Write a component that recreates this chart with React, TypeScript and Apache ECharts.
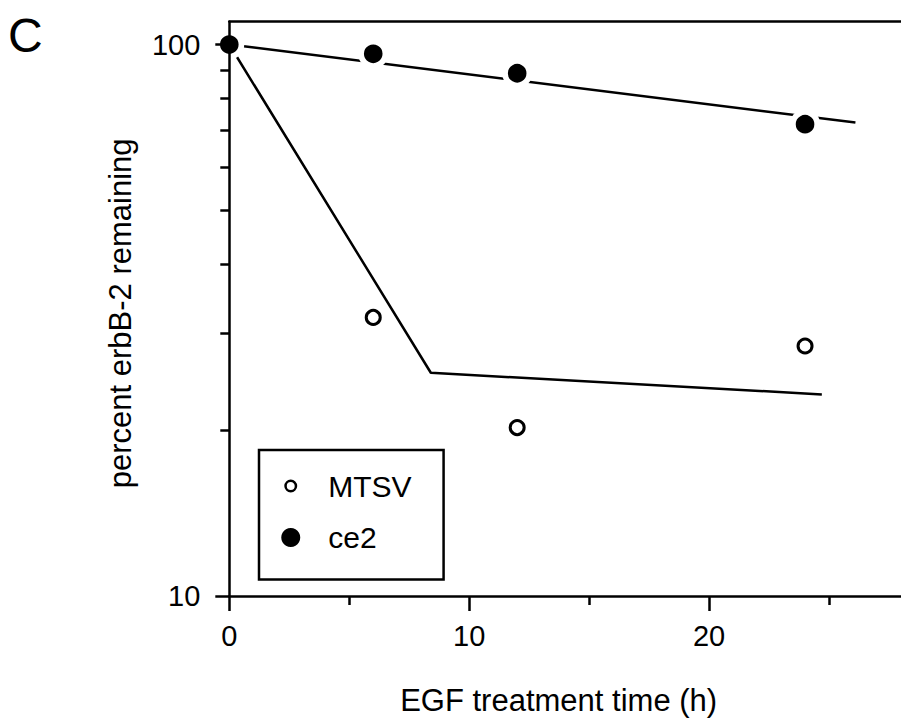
import React, { useEffect, useRef } from "react";
import * as echarts from "echarts";

// ---- data ----
const mtsvTime = [0, 6, 12, 24];
const mtsvValue = [100, 32.0, 20.2, 28.4];
const ce2Time = [0, 6, 12, 24];
const ce2Value = [100, 96.2, 88.7, 71.7];
const mtsvFitTime = [0, 8.4, 24.7];
const mtsvFitValue = [100, 25.4, 23.2];
const ce2FitTime = [0, 26.1];
const ce2FitValue = [100, 72.2];

const xMajorTicks = [0, 10, 20];
const xMinorTicks = [5, 15, 25];
const yMajorTicks = [10, 100];
const yMinorTicks = [20, 30, 40, 50, 60, 70, 80, 90];

const FONT = '"Liberation Sans", Arial, Helvetica, sans-serif';

const pairs = (xs: number[], ys: number[]) => xs.map((x, i) => [x, ys[i]]);

export default function App() {
  const ref = useRef<HTMLDivElement>(null);
  useEffect(() => {
    if (!ref.current) return;
    const chart = echarts.init(ref.current, undefined, { renderer: "svg" });
    const axisLine = { color: "#000", width: 2.5 };
    const option: any = {
      animation: false,
      backgroundColor: "#fff",
      grid: { left: 229.3, top: 21.7, width: 680.4, height: 575.3, containLabel: false },
      graphic: [
        {
          type: "text",
          left: 8,
          top: 11,
          style: { text: "C", font: `normal 48px ${FONT}`, fill: "#000" },
        },
      ],
      legend: {
        orient: "vertical",
        left: 259,
        top: 450,
        padding: [21, 32, 27, 21],
        itemGap: 21.5,
        itemWidth: 19,
        itemHeight: 19,
        borderColor: "#000",
        borderWidth: 2.5,
        backgroundColor: "#fff",
        selectedMode: false,
        textStyle: { fontSize: 30, fontFamily: FONT, color: "#000", lineHeight: 30, padding: [0, 0, 0, 23] },
        data: [
          {
            name: "MTSV",
            icon: "path://M0 0M20 20M4.5 10a5.5 5.5 0 1 0 11 0a5.5 5.5 0 1 0 -11 0",
            itemStyle: { color: "#fff", borderColor: "#000", borderWidth: 2.5 },
          },
          { name: "ce2", icon: "circle", itemStyle: { color: "#000", borderWidth: 0 } },
        ],
      },
      xAxis: [
        {
          type: "value",
          min: 0,
          max: 28,
          position: "bottom",
          axisLine: { show: true, onZero: false, lineStyle: axisLine },
          axisTick: { show: true, customValues: xMajorTicks, length: 15, lineStyle: axisLine },
          axisLabel: { customValues: xMajorTicks, margin: 25, fontSize: 29, fontFamily: FONT, color: "#000" },
          splitLine: { show: false },
          name: "EGF treatment time (h)",
          nameLocation: "middle",
          nameGap: 89,
          nameTextStyle: { fontSize: 31, fontFamily: FONT, color: "#000", padding: [0, 13, 0, 0] },
        },
        {
          type: "value",
          min: 0,
          max: 28,
          position: "bottom",
          axisLine: { show: false, onZero: false },
          axisTick: { show: true, customValues: xMinorTicks, length: 9, lineStyle: axisLine },
          axisLabel: { show: false },
          splitLine: { show: false },
        },
        {
          type: "value",
          min: 0,
          max: 28,
          position: "top",
          axisLine: { show: true, onZero: false, lineStyle: axisLine },
          axisTick: { show: false },
          axisLabel: { show: false },
          splitLine: { show: false },
        },
      ],
      yAxis: [
        {
          type: "log",
          logBase: 10,
          min: 10,
          max: 110,
          position: "left",
          z: 10,
          axisLine: { show: true, onZero: false, lineStyle: axisLine },
          axisTick: { show: true, customValues: yMajorTicks, length: 14, lineStyle: axisLine },
          axisLabel: { customValues: yMajorTicks, margin: 29, fontSize: 29, fontFamily: FONT, color: "#000" },
          splitLine: { show: false },
          minorTick: { show: false },
          name: "percent erbB-2 remaining",
          nameLocation: "middle",
          nameGap: 93,
          nameTextStyle: { fontSize: 31, fontFamily: FONT, color: "#000", padding: [0, 9, 0, 0] },
        },
        {
          type: "log",
          logBase: 10,
          min: 10,
          max: 110,
          position: "left",
          z: 10,
          axisLine: { show: false, onZero: false },
          axisTick: { show: true, customValues: yMinorTicks, length: 9, lineStyle: axisLine },
          axisLabel: { show: false },
          splitLine: { show: false },
          minorTick: { show: false },
        },
      ],
      series: [
        {
          name: "MTSV fit",
          type: "line",
          data: pairs(mtsvFitTime, mtsvFitValue),
          showSymbol: false,
          symbol: "none",
          lineStyle: { color: "#000", width: 2.5 },
          z: 2,
        },
        {
          name: "ce2 fit",
          type: "line",
          data: pairs(ce2FitTime, ce2FitValue),
          showSymbol: false,
          symbol: "none",
          lineStyle: { color: "#000", width: 2.5 },
          z: 2,
        },
        {
          name: "MTSV",
          type: "scatter",
          data: pairs(mtsvTime, mtsvValue),
          symbol: "circle",
          symbolSize: 14,
          itemStyle: { color: "#fff", borderColor: "#000", borderWidth: 3, opacity: 1 },
          z: 3,
        },
        {
          name: "ce2",
          type: "scatter",
          data: pairs(ce2Time, ce2Value),
          symbol: "circle",
          symbolSize: 24.3,
          itemStyle: { color: "#000", borderColor: "#fff", borderWidth: 5.7, opacity: 1 },
          z: 4,
        },
      ],
    };
    chart.setOption(option);
    return () => chart.dispose();
  }, []);
  return (
    <div
      ref={ref}
      style={{ position: "absolute", left: 0, top: 0, width: 901, height: 721 }}
    />
  );
}
